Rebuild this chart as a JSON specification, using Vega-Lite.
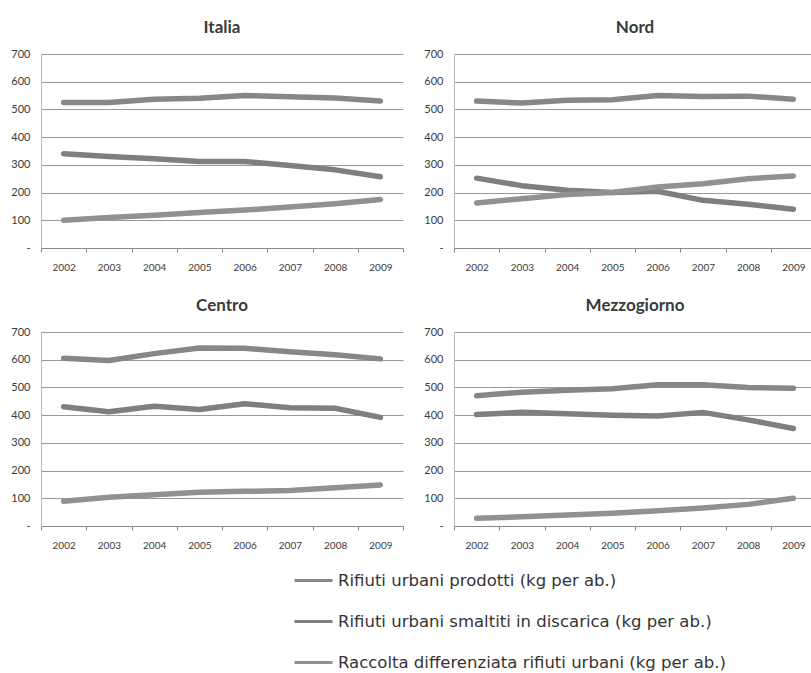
{
  "$schema": "https://vega.github.io/schema/vega-lite/v6.json",
  "background": "white",
  "padding": {"left": 10, "top": 19, "right": 0, "bottom": 0},
  "data": {"values": [
    {"area": "Italia", "anno": "2002", "serie": "Rifiuti urbani prodotti (kg per ab.)", "valore": 525},
    {"area": "Italia", "anno": "2003", "serie": "Rifiuti urbani prodotti (kg per ab.)", "valore": 525},
    {"area": "Italia", "anno": "2004", "serie": "Rifiuti urbani prodotti (kg per ab.)", "valore": 537},
    {"area": "Italia", "anno": "2005", "serie": "Rifiuti urbani prodotti (kg per ab.)", "valore": 540},
    {"area": "Italia", "anno": "2006", "serie": "Rifiuti urbani prodotti (kg per ab.)", "valore": 550},
    {"area": "Italia", "anno": "2007", "serie": "Rifiuti urbani prodotti (kg per ab.)", "valore": 546},
    {"area": "Italia", "anno": "2008", "serie": "Rifiuti urbani prodotti (kg per ab.)", "valore": 541},
    {"area": "Italia", "anno": "2009", "serie": "Rifiuti urbani prodotti (kg per ab.)", "valore": 530},
    {"area": "Italia", "anno": "2002", "serie": "Rifiuti urbani smaltiti in discarica (kg per ab.)", "valore": 340},
    {"area": "Italia", "anno": "2003", "serie": "Rifiuti urbani smaltiti in discarica (kg per ab.)", "valore": 330},
    {"area": "Italia", "anno": "2004", "serie": "Rifiuti urbani smaltiti in discarica (kg per ab.)", "valore": 322},
    {"area": "Italia", "anno": "2005", "serie": "Rifiuti urbani smaltiti in discarica (kg per ab.)", "valore": 312},
    {"area": "Italia", "anno": "2006", "serie": "Rifiuti urbani smaltiti in discarica (kg per ab.)", "valore": 312},
    {"area": "Italia", "anno": "2007", "serie": "Rifiuti urbani smaltiti in discarica (kg per ab.)", "valore": 298},
    {"area": "Italia", "anno": "2008", "serie": "Rifiuti urbani smaltiti in discarica (kg per ab.)", "valore": 282},
    {"area": "Italia", "anno": "2009", "serie": "Rifiuti urbani smaltiti in discarica (kg per ab.)", "valore": 257},
    {"area": "Italia", "anno": "2002", "serie": "Raccolta differenziata rifiuti urbani (kg per ab.)", "valore": 100},
    {"area": "Italia", "anno": "2003", "serie": "Raccolta differenziata rifiuti urbani (kg per ab.)", "valore": 110},
    {"area": "Italia", "anno": "2004", "serie": "Raccolta differenziata rifiuti urbani (kg per ab.)", "valore": 118},
    {"area": "Italia", "anno": "2005", "serie": "Raccolta differenziata rifiuti urbani (kg per ab.)", "valore": 128},
    {"area": "Italia", "anno": "2006", "serie": "Raccolta differenziata rifiuti urbani (kg per ab.)", "valore": 137},
    {"area": "Italia", "anno": "2007", "serie": "Raccolta differenziata rifiuti urbani (kg per ab.)", "valore": 148},
    {"area": "Italia", "anno": "2008", "serie": "Raccolta differenziata rifiuti urbani (kg per ab.)", "valore": 160},
    {"area": "Italia", "anno": "2009", "serie": "Raccolta differenziata rifiuti urbani (kg per ab.)", "valore": 175},
    {"area": "Nord", "anno": "2002", "serie": "Rifiuti urbani prodotti (kg per ab.)", "valore": 530},
    {"area": "Nord", "anno": "2003", "serie": "Rifiuti urbani prodotti (kg per ab.)", "valore": 523},
    {"area": "Nord", "anno": "2004", "serie": "Rifiuti urbani prodotti (kg per ab.)", "valore": 533},
    {"area": "Nord", "anno": "2005", "serie": "Rifiuti urbani prodotti (kg per ab.)", "valore": 535},
    {"area": "Nord", "anno": "2006", "serie": "Rifiuti urbani prodotti (kg per ab.)", "valore": 550},
    {"area": "Nord", "anno": "2007", "serie": "Rifiuti urbani prodotti (kg per ab.)", "valore": 547},
    {"area": "Nord", "anno": "2008", "serie": "Rifiuti urbani prodotti (kg per ab.)", "valore": 548},
    {"area": "Nord", "anno": "2009", "serie": "Rifiuti urbani prodotti (kg per ab.)", "valore": 537},
    {"area": "Nord", "anno": "2002", "serie": "Rifiuti urbani smaltiti in discarica (kg per ab.)", "valore": 252},
    {"area": "Nord", "anno": "2003", "serie": "Rifiuti urbani smaltiti in discarica (kg per ab.)", "valore": 225},
    {"area": "Nord", "anno": "2004", "serie": "Rifiuti urbani smaltiti in discarica (kg per ab.)", "valore": 208},
    {"area": "Nord", "anno": "2005", "serie": "Rifiuti urbani smaltiti in discarica (kg per ab.)", "valore": 200},
    {"area": "Nord", "anno": "2006", "serie": "Rifiuti urbani smaltiti in discarica (kg per ab.)", "valore": 205},
    {"area": "Nord", "anno": "2007", "serie": "Rifiuti urbani smaltiti in discarica (kg per ab.)", "valore": 172},
    {"area": "Nord", "anno": "2008", "serie": "Rifiuti urbani smaltiti in discarica (kg per ab.)", "valore": 158},
    {"area": "Nord", "anno": "2009", "serie": "Rifiuti urbani smaltiti in discarica (kg per ab.)", "valore": 140},
    {"area": "Nord", "anno": "2002", "serie": "Raccolta differenziata rifiuti urbani (kg per ab.)", "valore": 162},
    {"area": "Nord", "anno": "2003", "serie": "Raccolta differenziata rifiuti urbani (kg per ab.)", "valore": 178},
    {"area": "Nord", "anno": "2004", "serie": "Raccolta differenziata rifiuti urbani (kg per ab.)", "valore": 193},
    {"area": "Nord", "anno": "2005", "serie": "Raccolta differenziata rifiuti urbani (kg per ab.)", "valore": 200},
    {"area": "Nord", "anno": "2006", "serie": "Raccolta differenziata rifiuti urbani (kg per ab.)", "valore": 220},
    {"area": "Nord", "anno": "2007", "serie": "Raccolta differenziata rifiuti urbani (kg per ab.)", "valore": 232},
    {"area": "Nord", "anno": "2008", "serie": "Raccolta differenziata rifiuti urbani (kg per ab.)", "valore": 250},
    {"area": "Nord", "anno": "2009", "serie": "Raccolta differenziata rifiuti urbani (kg per ab.)", "valore": 260},
    {"area": "Centro", "anno": "2002", "serie": "Rifiuti urbani prodotti (kg per ab.)", "valore": 605},
    {"area": "Centro", "anno": "2003", "serie": "Rifiuti urbani prodotti (kg per ab.)", "valore": 597},
    {"area": "Centro", "anno": "2004", "serie": "Rifiuti urbani prodotti (kg per ab.)", "valore": 622},
    {"area": "Centro", "anno": "2005", "serie": "Rifiuti urbani prodotti (kg per ab.)", "valore": 642},
    {"area": "Centro", "anno": "2006", "serie": "Rifiuti urbani prodotti (kg per ab.)", "valore": 641},
    {"area": "Centro", "anno": "2007", "serie": "Rifiuti urbani prodotti (kg per ab.)", "valore": 629},
    {"area": "Centro", "anno": "2008", "serie": "Rifiuti urbani prodotti (kg per ab.)", "valore": 618},
    {"area": "Centro", "anno": "2009", "serie": "Rifiuti urbani prodotti (kg per ab.)", "valore": 603},
    {"area": "Centro", "anno": "2002", "serie": "Rifiuti urbani smaltiti in discarica (kg per ab.)", "valore": 430},
    {"area": "Centro", "anno": "2003", "serie": "Rifiuti urbani smaltiti in discarica (kg per ab.)", "valore": 412},
    {"area": "Centro", "anno": "2004", "serie": "Rifiuti urbani smaltiti in discarica (kg per ab.)", "valore": 432},
    {"area": "Centro", "anno": "2005", "serie": "Rifiuti urbani smaltiti in discarica (kg per ab.)", "valore": 420},
    {"area": "Centro", "anno": "2006", "serie": "Rifiuti urbani smaltiti in discarica (kg per ab.)", "valore": 441},
    {"area": "Centro", "anno": "2007", "serie": "Rifiuti urbani smaltiti in discarica (kg per ab.)", "valore": 427},
    {"area": "Centro", "anno": "2008", "serie": "Rifiuti urbani smaltiti in discarica (kg per ab.)", "valore": 425},
    {"area": "Centro", "anno": "2009", "serie": "Rifiuti urbani smaltiti in discarica (kg per ab.)", "valore": 392},
    {"area": "Centro", "anno": "2002", "serie": "Raccolta differenziata rifiuti urbani (kg per ab.)", "valore": 89},
    {"area": "Centro", "anno": "2003", "serie": "Raccolta differenziata rifiuti urbani (kg per ab.)", "valore": 104},
    {"area": "Centro", "anno": "2004", "serie": "Raccolta differenziata rifiuti urbani (kg per ab.)", "valore": 113},
    {"area": "Centro", "anno": "2005", "serie": "Raccolta differenziata rifiuti urbani (kg per ab.)", "valore": 122},
    {"area": "Centro", "anno": "2006", "serie": "Raccolta differenziata rifiuti urbani (kg per ab.)", "valore": 125},
    {"area": "Centro", "anno": "2007", "serie": "Raccolta differenziata rifiuti urbani (kg per ab.)", "valore": 128},
    {"area": "Centro", "anno": "2008", "serie": "Raccolta differenziata rifiuti urbani (kg per ab.)", "valore": 138},
    {"area": "Centro", "anno": "2009", "serie": "Raccolta differenziata rifiuti urbani (kg per ab.)", "valore": 148},
    {"area": "Mezzogiorno", "anno": "2002", "serie": "Rifiuti urbani prodotti (kg per ab.)", "valore": 470},
    {"area": "Mezzogiorno", "anno": "2003", "serie": "Rifiuti urbani prodotti (kg per ab.)", "valore": 483},
    {"area": "Mezzogiorno", "anno": "2004", "serie": "Rifiuti urbani prodotti (kg per ab.)", "valore": 490},
    {"area": "Mezzogiorno", "anno": "2005", "serie": "Rifiuti urbani prodotti (kg per ab.)", "valore": 495},
    {"area": "Mezzogiorno", "anno": "2006", "serie": "Rifiuti urbani prodotti (kg per ab.)", "valore": 510},
    {"area": "Mezzogiorno", "anno": "2007", "serie": "Rifiuti urbani prodotti (kg per ab.)", "valore": 510},
    {"area": "Mezzogiorno", "anno": "2008", "serie": "Rifiuti urbani prodotti (kg per ab.)", "valore": 500},
    {"area": "Mezzogiorno", "anno": "2009", "serie": "Rifiuti urbani prodotti (kg per ab.)", "valore": 497},
    {"area": "Mezzogiorno", "anno": "2002", "serie": "Rifiuti urbani smaltiti in discarica (kg per ab.)", "valore": 402},
    {"area": "Mezzogiorno", "anno": "2003", "serie": "Rifiuti urbani smaltiti in discarica (kg per ab.)", "valore": 410},
    {"area": "Mezzogiorno", "anno": "2004", "serie": "Rifiuti urbani smaltiti in discarica (kg per ab.)", "valore": 405},
    {"area": "Mezzogiorno", "anno": "2005", "serie": "Rifiuti urbani smaltiti in discarica (kg per ab.)", "valore": 400},
    {"area": "Mezzogiorno", "anno": "2006", "serie": "Rifiuti urbani smaltiti in discarica (kg per ab.)", "valore": 397},
    {"area": "Mezzogiorno", "anno": "2007", "serie": "Rifiuti urbani smaltiti in discarica (kg per ab.)", "valore": 410},
    {"area": "Mezzogiorno", "anno": "2008", "serie": "Rifiuti urbani smaltiti in discarica (kg per ab.)", "valore": 383},
    {"area": "Mezzogiorno", "anno": "2009", "serie": "Rifiuti urbani smaltiti in discarica (kg per ab.)", "valore": 352},
    {"area": "Mezzogiorno", "anno": "2002", "serie": "Raccolta differenziata rifiuti urbani (kg per ab.)", "valore": 28},
    {"area": "Mezzogiorno", "anno": "2003", "serie": "Raccolta differenziata rifiuti urbani (kg per ab.)", "valore": 33},
    {"area": "Mezzogiorno", "anno": "2004", "serie": "Raccolta differenziata rifiuti urbani (kg per ab.)", "valore": 40},
    {"area": "Mezzogiorno", "anno": "2005", "serie": "Raccolta differenziata rifiuti urbani (kg per ab.)", "valore": 46},
    {"area": "Mezzogiorno", "anno": "2006", "serie": "Raccolta differenziata rifiuti urbani (kg per ab.)", "valore": 55},
    {"area": "Mezzogiorno", "anno": "2007", "serie": "Raccolta differenziata rifiuti urbani (kg per ab.)", "valore": 65},
    {"area": "Mezzogiorno", "anno": "2008", "serie": "Raccolta differenziata rifiuti urbani (kg per ab.)", "valore": 78},
    {"area": "Mezzogiorno", "anno": "2009", "serie": "Raccolta differenziata rifiuti urbani (kg per ab.)", "valore": 100}
  ]},
  "facet": {
    "field": "area",
    "type": "nominal",
    "sort": ["Italia", "Nord", "Centro", "Mezzogiorno"],
    "title": null,
    "header": {
      "labelFont": "Lato",
      "labelFontSize": 17,
      "labelFontWeight": "bold",
      "labelColor": "#3a3a3a",
      "labelPadding": 11
    }
  },
  "columns": 2,
  "spacing": {"column": 19, "row": 25},
  "resolve": {"axis": {"x": "independent", "y": "independent"}},
  "spec": {
    "width": 362,
    "height": 194,
    "mark": {"type": "line", "strokeWidth": 5.5, "strokeCap": "round", "strokeJoin": "round"},
    "encoding": {
      "x": {
        "field": "anno",
        "type": "ordinal",
        "bandPosition": 0.5,
        "scale": {"type": "band", "paddingInner": 0, "paddingOuter": 0},
        "axis": {
          "title": null,
          "labelAngle": 0,
          "tickBand": "extent",
          "labelFont": "Lato",
          "labelFontSize": 10,
          "labelColor": "#3a3a3a",
          "labelPadding": 10,
          "tickColor": "#888",
          "tickSize": 4,
          "domainColor": "#888",
          "grid": false
        }
      },
      "y": {
        "field": "valore",
        "type": "quantitative",
        "scale": {"domain": [0, 700], "nice": false},
        "axis": {
          "title": null,
          "values": [0, 100, 200, 300, 400, 500, 600, 700],
          "labelExpr": "datum.value == 0 ? '-' : datum.label",
          "labelFont": "Lato",
          "labelFontSize": 11,
          "labelColor": "#3a3a3a",
          "labelPadding": 11,
          "ticks": false,
          "domainColor": "#bbb",
          "grid": true,
          "gridColor": "#999",
          "gridWidth": 1
        }
      },
      "color": {
        "field": "serie",
        "type": "nominal",
        "sort": ["Rifiuti urbani prodotti (kg per ab.)", "Rifiuti urbani smaltiti in discarica (kg per ab.)", "Raccolta differenziata rifiuti urbani (kg per ab.)"],
        "scale": {"range": ["#878787", "#7f7f7f", "#919191"]},
        "legend": {
          "title": null,
          "orient": "none",
          "legendX": 252,
          "legendY": 506,
          "direction": "vertical",
          "symbolType": "stroke",
          "symbolSize": 1444,
          "symbolStrokeWidth": 3,
          "labelFont": "DejaVu Sans",
          "labelFontSize": 16.5,
          "labelColor": "#333",
          "labelOffset": 4,
          "labelLimit": 600,
          "rowPadding": 12
        }
      }
    }
  },
  "config": {"view": {"stroke": null}}
}
